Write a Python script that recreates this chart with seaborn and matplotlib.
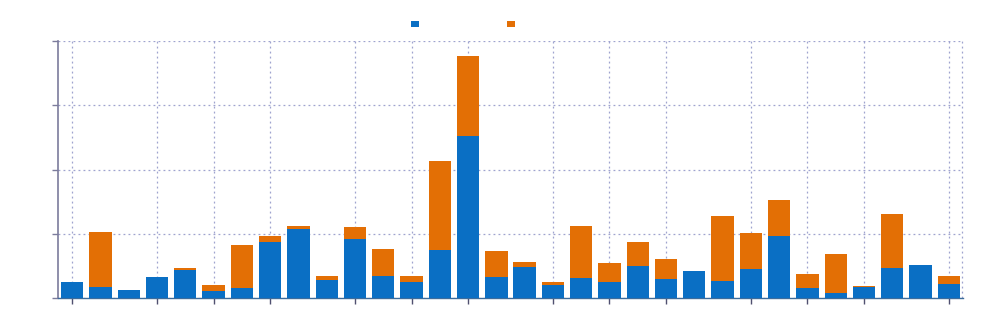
import matplotlib
matplotlib.use("Agg")
import matplotlib.pyplot as plt
from matplotlib.patches import Patch
import seaborn as sns
import numpy as np
import pandas as pd

# ---- data ----
categories = list(range(32))
series_a = [12.4, 8.2, 6.2, 16.5, 22.0, 5.7, 7.8, 43.7, 53.6, 14.0, 45.8, 17.1,
            12.7, 37.0, 126.1, 16.4, 24.3, 10.1, 15.2, 12.4, 25.1, 15.0, 21.2, 13.2,
            22.8, 48.6, 7.5, 4.1, 8.5, 23.0, 25.9, 11.1]
series_b = [0.0, 43.5, 0.0, 0.0, 1.5, 4.1, 33.1, 4.7, 2.6, 2.8, 9.6, 20.7,
            4.1, 70.0, 62.4, 20.1, 3.7, 2.3, 40.7, 14.5, 18.4, 15.3, 0.0, 50.7,
            27.9, 28.0, 10.9, 29.8, 0.5, 42.3, 0.0, 6.2]
tick_idx = [0, 3, 5, 7, 10, 12, 14, 17, 19, 21, 24, 26, 28, 31]
legend_labels = ["", ""]

blue = "#0a6fc4"
orange = "#e36f05"
grid_col = "#9fa3cf"

df = pd.DataFrame({"cat": categories, "a": series_a,
                   "total": np.array(series_a) + np.array(series_b)})

sns.set_style("white")
fig = plt.figure(figsize=(9.92, 3.27), dpi=100)
ax = fig.add_axes([58 / 992, 29 / 327, (963 - 58) / 992, (298 - 41) / 327])

sns.barplot(data=df, x="cat", y="total", color=orange, saturation=1,
            width=0.79, ax=ax, linewidth=0, zorder=3)
sns.barplot(data=df, x="cat", y="a", color=blue, saturation=1,
            width=0.79, ax=ax, linewidth=0, zorder=4)

ax.set_xlim(-0.5, 31.5)
ax.set_ylim(0, 200)
ax.set_yticks([0, 50, 100, 150, 200])
ax.set_xticks(tick_idx)
ax.set_xticklabels([])
ax.set_yticklabels([])
ax.set_xlabel("")
ax.set_ylabel("")

ax.grid(True, axis="both", linestyle=(0, (1.5, 2.5)), color=grid_col, linewidth=0.9, zorder=0)
ax.set_axisbelow(True)
ax.axvline(31.45, linestyle=(0, (1.5, 2.5)), color=grid_col, linewidth=0.9,
           zorder=0, clip_on=False)

for s in ["top", "right"]:
    ax.spines[s].set_visible(False)
ax.spines["left"].set_color("#7c7c9c")
ax.spines["left"].set_linewidth(1.2)
ax.spines["bottom"].set_color("#3c6c9c")
ax.spines["bottom"].set_linewidth(1.0)
ax.tick_params(axis="y", direction="out", length=4, width=1, color="#7c7c9c", left=True)
ax.tick_params(axis="x", direction="out", length=4, width=1, color="#505070", bottom=True)

handles = [Patch(facecolor=blue, edgecolor="none"), Patch(facecolor=orange, edgecolor="none")]
fig.legend(handles, legend_labels, loc="center", ncol=2, frameon=False,
           bbox_to_anchor=(463 / 992, 1 - 24 / 327), fontsize=6,
           handlelength=0.95, handleheight=0.75, handletextpad=0.0,
           columnspacing=10.5)

fig.savefig("out.png", dpi=100)
